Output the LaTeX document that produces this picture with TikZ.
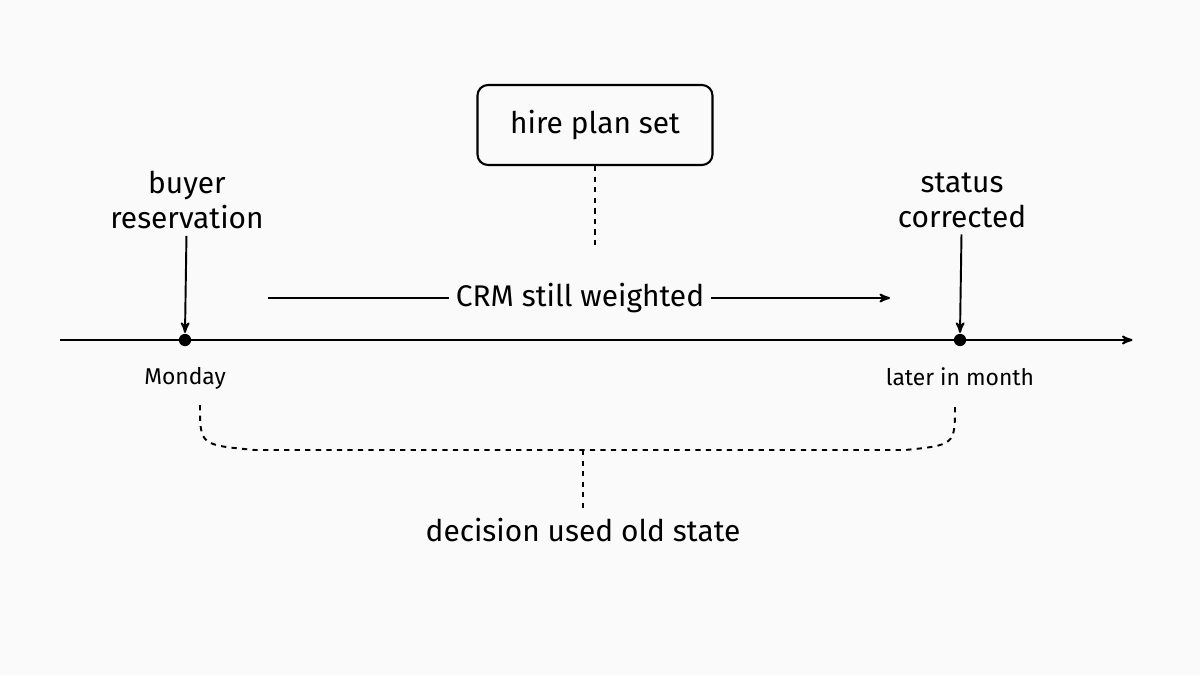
\documentclass[tikz,border=0pt]{standalone}
\usepackage{fontspec}
\setmainfont{Fira Sans}
\usetikzlibrary{arrows,calc}
\tikzset{
    label/.style =  {text=black,
                    font=\fontsize{17}{20}\selectfont,
                    align=center},
    small/.style =  {text=black,
                    font=\fontsize{13}{15}\selectfont},
    box/.style =    {rectangle,
                    rounded corners=6pt,
                    draw=black,
                    very thick,
                    minimum width=4.7cm,
                    minimum height=1.6cm,
                    font=\fontsize{17}{20}\selectfont},
    dot/.style =    {circle,
                    fill=black,
                    inner sep=0pt,
                    minimum size=7pt},
    >=stealth'}
\begin{document}
\begin{tikzpicture}[line width=1.1pt]
        \useasboundingbox (0,0) rectangle (24,13.5);
        \fill[white!98!black] (0,0) rectangle (24,13.5);
        % axis
        \coordinate (L)  at (1.2,6.7);
        \coordinate (R)  at (22.65,6.7);
        \node[dot]       (A) at (3.7,6.7)   {};
        \node[dot]       (B) at (19.2,6.7)  {};
        \draw[->] (L) -- (R);

        \node[box]       (plan) at (11.9,11.0) {hire plan set};
        \coordinate (planend) at (11.9,8.5);
        \draw[dashed] (plan) -- (planend);

        \node[label]     (buyer)  at (3.74,9.5)  {buyer\\reservation};
        \node[label]     (status) at (19.24,9.5) {status\\corrected};
        \draw[->] (buyer)  -- (A.north);
        \draw[->] (status) -- (B.north);

        \node[label]     (crm) at (11.6,7.54) {CRM still weighted};
        \coordinate (crmL) at (5.36,7.54);
        \coordinate (crmR) at (17.8,7.54);
        \draw (crmL) -- (crm);
        \draw[->] (crm) -- (crmR);

        \node[small]     (mon)   at (3.7,5.94)  {Monday};
        \node[small]     (later) at (19.2,5.96) {later in month};

        % bracket
        \draw[dashed] (4.0,5.4) .. controls (4.0,4.6) .. (5.1,4.5)
                      -- (18.1,4.5) .. controls (19.1,4.6) .. (19.1,5.4);
        \node[label]     (dec) at (11.66,2.9) {decision used old state};
        \draw[dashed] (11.66,4.5) -- (dec);
\end{tikzpicture}
\end{document}
